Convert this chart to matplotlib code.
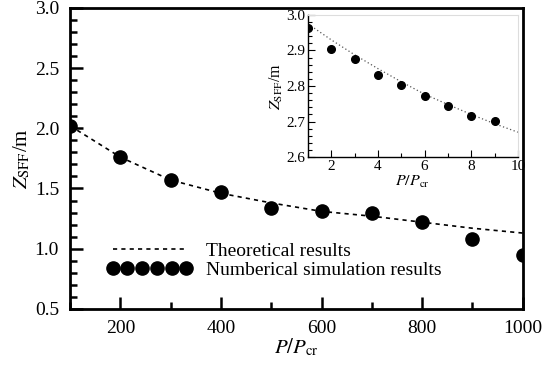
import matplotlib.pyplot as plt
from matplotlib.ticker import MultipleLocator

plt.rcParams['font.family'] = 'Liberation Serif'
plt.rcParams['mathtext.fontset'] = 'stix'

# Hauptdiagramm: Simulation
p_sim = [100, 200, 300, 400, 500, 600, 700, 800, 900, 1000]
z_sim = [2.02, 1.76, 1.57, 1.47, 1.34, 1.31, 1.30, 1.22, 1.08, 0.95]
# Theorie
p_th = [100, 200, 300, 400, 500, 600, 700, 800, 900, 1000]
z_th = [2.02, 1.76, 1.57, 1.46, 1.38, 1.31, 1.27, 1.22, 1.17, 1.13]

# Einschub
p_sim_in = [1, 2, 3, 4, 5, 6, 7, 8, 9]
z_sim_in = [2.962, 2.905, 2.875, 2.832, 2.803, 2.773, 2.745, 2.716, 2.702]
p_th_in = [1, 2, 3, 4, 5, 6, 7, 8, 9, 10]
z_th_in = [2.975, 2.930, 2.888, 2.849, 2.812, 2.777, 2.748, 2.720, 2.694, 2.670]

fig = plt.figure(figsize=(5.44, 3.74), dpi=100)
ax = fig.add_axes([0.129, 0.174, 0.832, 0.805])

ax.plot(p_th, z_th, color='black', linestyle=(0, (2.5, 2.5)), linewidth=1.2,
        label='Theoretical results')
ax.plot(p_sim, z_sim, 'o', color='black', markersize=9.5,
        label='Numberical simulation results')

ax.set_xlim(100, 1000)
ax.set_ylim(0.5, 3.0)
ax.xaxis.set_major_locator(MultipleLocator(200))
ax.xaxis.set_minor_locator(MultipleLocator(100))
ax.yaxis.set_major_locator(MultipleLocator(0.5))
ax.yaxis.set_minor_locator(MultipleLocator(0.1))
ax.set_yticklabels([f'{v:.1f}' for v in ax.get_yticks()])
ax.tick_params(which='both', direction='in', top=False, right=False,
               labelsize=14, width=1.8)
ax.tick_params(which='major', length=9, pad=8)
ax.tick_params(which='minor', length=5)
for s in ax.spines.values():
    s.set_linewidth(2)
ax.set_xlabel(r'$P/P_{\mathrm{cr}}$', fontsize=15, labelpad=0)
ax.set_ylabel(r'$Z_{\mathrm{SFF}}$/m', fontsize=15, labelpad=2)

ax.legend(loc='lower left', bbox_to_anchor=(0.055, 0.06), frameon=False,
          fontsize=14, numpoints=6, handlelength=4.4, handletextpad=0.7,
          labelspacing=0.1, borderaxespad=0.2)

# Einschub
ins = fig.add_axes([0.566, 0.580, 0.386, 0.380])
ins.plot(p_th_in, z_th_in, color='#555555', linestyle=(0, (1, 2)), linewidth=0.9)
ins.plot(p_sim_in, z_sim_in, 'o', color='black', markersize=5.5)
ins.set_xlim(1, 10)
ins.set_ylim(2.6, 3.0)
ins.xaxis.set_major_locator(MultipleLocator(2))
ins.xaxis.set_minor_locator(MultipleLocator(1))
ins.yaxis.set_major_locator(MultipleLocator(0.1))
ins.yaxis.set_minor_locator(MultipleLocator(0.02))
ins.set_yticklabels([f'{v:.1f}' for v in ins.get_yticks()])
ins.tick_params(which='both', direction='in', top=False, right=False,
                labelsize=11, width=0.8, pad=2)
ins.tick_params(which='major', length=5)
ins.tick_params(which='minor', length=3)
ins.spines['top'].set_color('#dddddd')
ins.spines['right'].set_color('#dddddd')
ins.spines['left'].set_linewidth(1)
ins.spines['bottom'].set_linewidth(1)
ins.set_xlabel(r'$P/P_{\mathrm{cr}}$', fontsize=11.5, labelpad=1)
ins.set_ylabel(r'$Z_{\mathrm{SFF}}$/m', fontsize=11.5, labelpad=1)

fig.savefig('out.png', dpi=100)
